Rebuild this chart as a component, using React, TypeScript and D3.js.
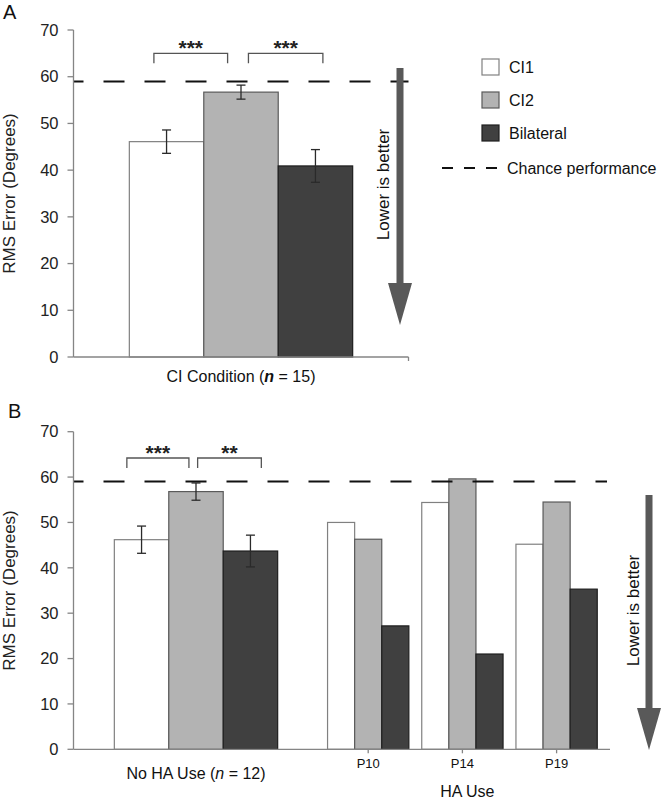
import React from 'react';
import * as d3 from 'd3';

// ---------- data ----------
const series = ['CI1', 'CI2', 'Bilateral'];

const groupA = ['CI Condition'];
const meansA = [46.1, 56.7, 40.9];
const errA = [2.5, 1.5, 3.5];

const groupB = ['No HA Use'];
const meansB = [46.2, 56.8, 43.7];
const errB = [3.0, 1.9, 3.5];

const patients = ['P10', 'P14', 'P19'];
const ci1HA = [50.0, 54.4, 45.2];
const ci2HA = [46.3, 59.6, 54.5];
const bilHA = [27.2, 21.0, 35.3];

const chanceLevel = 59;
const yTicks = [0, 10, 20, 30, 40, 50, 60, 70];

const sigLabelsA = ['***', '***'];
const sigLabelsB = ['***', '**'];

// ---------- styles ----------
const FONT = 'Liberation Sans, Arial, Helvetica, sans-serif';
const fills = ['#ffffff', '#b3b3b3', '#404040'];
const strokes = ['#808080', '#5a5a5a', '#1e1e1e'];
const AXIS = '#858585';
const ARROW = '#595959';

function YAxis({ y, x0 }: { y: d3.ScaleLinear<number, number>; x0: number }) {
  const [r0, r1] = y.range();
  return (
    <g>
      <line x1={x0} x2={x0} y1={r0} y2={r1} stroke={AXIS} strokeWidth={1.3} />
      {yTicks.map((t) => (
        <g key={t}>
          <line x1={x0 - 6} x2={x0} y1={y(t)} y2={y(t)} stroke={AXIS} strokeWidth={1.3} />
          <text x={x0 - 15} y={y(t) + 5.7} textAnchor="end" fontSize={16.5} fill="#222" fontFamily={FONT}>
            {t}
          </text>
        </g>
      ))}
    </g>
  );
}

function ErrorBar({ x, y, mean, err }: { x: number; y: d3.ScaleLinear<number, number>; mean: number; err: number }) {
  const cap = 4.5;
  return (
    <g stroke="#2a2a2a" strokeWidth={1.3}>
      <line x1={x} x2={x} y1={y(mean + err)} y2={y(mean - err)} />
      <line x1={x - cap} x2={x + cap} y1={y(mean + err)} y2={y(mean + err)} />
      <line x1={x - cap} x2={x + cap} y1={y(mean - err)} y2={y(mean - err)} />
    </g>
  );
}

function Bracket({ x1, x2, yTop, label }: { x1: number; x2: number; yTop: number; label: string }) {
  return (
    <g>
      <path d={`M${x1},${yTop + 10} V${yTop} H${x2} V${yTop + 10}`} fill="none" stroke="#555" strokeWidth={1.3} />
      <text x={(x1 + x2) / 2} y={yTop + 2} textAnchor="middle" fontSize={21} fontWeight="bold" fill="#222" fontFamily={FONT}>
        {label}
      </text>
    </g>
  );
}

function Arrow({ x, y1, y2, textX }: { x: number; y1: number; y2: number; textX: number }) {
  const headLen = 42;
  const headHalf = 12;
  const mid = (y1 + y2) / 2 - 12;
  return (
    <g>
      <rect x={x - 3.5} y={y1} width={7} height={y2 - y1 - headLen + 1} fill={ARROW} />
      <path d={`M${x - headHalf},${y2 - headLen} L${x + headHalf},${y2 - headLen} L${x},${y2} Z`} fill={ARROW} />
      <text
        transform={`translate(${textX},${mid}) rotate(-90)`}
        textAnchor="middle"
        fontSize={17}
        fill="#111"
        fontFamily={FONT}
      >
        Lower is better
      </text>
    </g>
  );
}

function ChanceLine({ x1, x2, y }: { x1: number; x2: number; y: number }) {
  return (
    <line x1={x1} x2={x2} y1={y} y2={y} stroke="#111" strokeWidth={2} strokeDasharray="21,20" strokeDashoffset={11} />
  );
}

function YLabel({ y }: { y: d3.ScaleLinear<number, number> }) {
  const [r0, r1] = y.range();
  return (
    <text transform={`translate(15,${(r0 + r1) / 2}) rotate(-90)`} textAnchor="middle" fontSize={17} fill="#222" fontFamily={FONT}>
      RMS Error (Degrees)
    </text>
  );
}

export default function App() {
  const axisX = 73.5;

  // ---------- Panel A ----------
  const yA = d3.scaleLinear().domain([0, 70]).range([357, 30]);
  const xA = d3.scaleBand<string>().domain(groupA).range([axisX, 408.5]).paddingOuter(0.25).paddingInner(0);
  const sA = d3.scaleBand<string>().domain(series).range([0, xA.bandwidth()]);
  const barX = (outer: d3.ScaleBand<string>, inner: d3.ScaleBand<string>, g: string, s: string) =>
    (outer(g) as number) + (inner(s) as number);

  const bracketA = [
    { a: 0, fa: 0.33, b: 1, fb: 0.32 },
    { a: 1, fa: 0.6, b: 2, fb: 0.6 },
  ];

  // ---------- Panel B ----------
  const yB = d3.scaleLinear().domain([0, 70]).range([749.3, 431.7]);
  const xB = d3.scaleBand<string>().domain(groupB).range([axisX, 318.5]).paddingOuter(0.25).paddingInner(0);
  const sB = d3.scaleBand<string>().domain(series).range([0, xB.bandwidth()]);
  const xP = d3.scaleBand<string>().domain(patients).range([321.1, 603.7]).padding(0);
  const sP = d3.scaleBand<string>().domain(series).range([0, xP.bandwidth()]).paddingOuter(0.238).paddingInner(0);
  const haValues = [ci1HA, ci2HA, bilHA];

  const bracketB = [
    { a: 0, fa: 0.23, b: 1, fb: 0.37 },
    { a: 1, fa: 0.53, b: 2, fb: 0.7 },
  ];

  const legendY = [67, 100, 133];

  return (
    <svg width={664} height={804} style={{ position: 'absolute', left: 0, top: 0, background: '#fff' }} fontFamily={FONT}>
      <rect width={664} height={804} fill="#fff" />

      {/* ===== Panel A ===== */}
      <text x={3} y={19} fontSize={20} fill="#111" fontFamily={FONT}>A</text>
      <YLabel y={yA} />

      {series.map((s, i) => {
        const x = barX(xA, sA, groupA[0], s);
        return (
          <rect key={s} x={x} y={yA(meansA[i])} width={sA.bandwidth()} height={yA(0) - yA(meansA[i])}
            fill={fills[i]} stroke={strokes[i]} strokeWidth={1.2} />
        );
      })}
      {series.map((s, i) => (
        <ErrorBar key={s} x={barX(xA, sA, groupA[0], s) + sA.bandwidth() / 2} y={yA} mean={meansA[i]} err={errA[i]} />
      ))}
      <ChanceLine x1={axisX} x2={408.5} y={yA(chanceLevel)} />
      {bracketA.map((b, i) => (
        <Bracket key={i}
          x1={barX(xA, sA, groupA[0], series[b.a]) + sA.bandwidth() * b.fa}
          x2={barX(xA, sA, groupA[0], series[b.b]) + sA.bandwidth() * b.fb}
          yTop={yA(65)} label={sigLabelsA[i]} />
      ))}
      <YAxis y={yA} x0={axisX} />
      <line x1={axisX} x2={408.5} y1={yA(0)} y2={yA(0)} stroke={AXIS} strokeWidth={1.3} />
      <line x1={408.5} x2={408.5} y1={yA(0)} y2={yA(0) + 4} stroke={AXIS} strokeWidth={1.3} />
      <text x={(xA(groupA[0]) as number) + xA.bandwidth() / 2} y={382} textAnchor="middle" fontSize={16} fill="#111" fontFamily={FONT}>
        CI Condition (<tspan fontStyle="italic" fontWeight="bold">n</tspan> = 15)
      </text>

      <Arrow x={400} y1={68} y2={325} textX={389} />

      {/* Legend */}
      {series.map((s, i) => (
        <g key={s}>
          <rect x={482} y={legendY[i] - 8} width={17} height={16} fill={fills[i]} stroke={strokes[i]} strokeWidth={1.2} />
          <text x={509} y={legendY[i] + 6} fontSize={16} fill="#111" fontFamily={FONT}>{s}</text>
        </g>
      ))}
      <line x1={442} x2={497} y1={168} y2={168} stroke="#111" strokeWidth={2} strokeDasharray="11,11" />
      <text x={507} y={173.5} fontSize={16} fill="#111" fontFamily={FONT}>Chance performance</text>

      {/* ===== Panel B ===== */}
      <text x={8} y={418} fontSize={20} fill="#111" fontFamily={FONT}>B</text>
      <YLabel y={yB} />

      {series.map((s, i) => {
        const x = barX(xB, sB, groupB[0], s);
        return (
          <rect key={s} x={x} y={yB(meansB[i])} width={sB.bandwidth()} height={yB(0) - yB(meansB[i])}
            fill={fills[i]} stroke={strokes[i]} strokeWidth={1.2} />
        );
      })}
      {series.map((s, i) => (
        <ErrorBar key={s} x={barX(xB, sB, groupB[0], s) + sB.bandwidth() / 2} y={yB} mean={meansB[i]} err={errB[i]} />
      ))}
      {patients.map((p, pi) =>
        series.map((s, i) => {
          const v = haValues[i][pi];
          return (
            <rect key={p + s} x={barX(xP, sP, p, s)} y={yB(v)} width={sP.bandwidth()} height={yB(0) - yB(v)}
              fill={fills[i]} stroke={strokes[i]} strokeWidth={1.2} />
          );
        })
      )}
      <ChanceLine x1={axisX} x2={607} y={yB(chanceLevel)} />
      {bracketB.map((b, i) => (
        <Bracket key={i}
          x1={barX(xB, sB, groupB[0], series[b.a]) + sB.bandwidth() * b.fa}
          x2={barX(xB, sB, groupB[0], series[b.b]) + sB.bandwidth() * b.fb}
          yTop={yB(64.2)} label={sigLabelsB[i]} />
      ))}
      <YAxis y={yB} x0={axisX} />
      <line x1={axisX} x2={610} y1={yB(0)} y2={yB(0)} stroke={AXIS} strokeWidth={1.3} />
      {patients.map((p) => {
        const cx = (xP(p) as number) + xP.bandwidth() / 2;
        return (
          <g key={p}>
            <line x1={cx} x2={cx} y1={yB(0)} y2={yB(0) + 4} stroke={AXIS} strokeWidth={1.3} />
            <text x={cx} y={768} textAnchor="middle" fontSize={13} fill="#111" fontFamily={FONT}>{p}</text>
          </g>
        );
      })}
      <text x={(xB(groupB[0]) as number) + xB.bandwidth() / 2} y={779} textAnchor="middle" fontSize={16} fill="#111" fontFamily={FONT}>
        No HA Use (<tspan fontStyle="italic">n</tspan> = 12)
      </text>
      <text x={(xP(patients[1]) as number) + xP.bandwidth() / 2 + 5} y={797} textAnchor="middle" fontSize={16} fill="#111" fontFamily={FONT}>
        HA Use
      </text>

      <Arrow x={649} y1={495} y2={750} textX={639} />
    </svg>
  );
}
